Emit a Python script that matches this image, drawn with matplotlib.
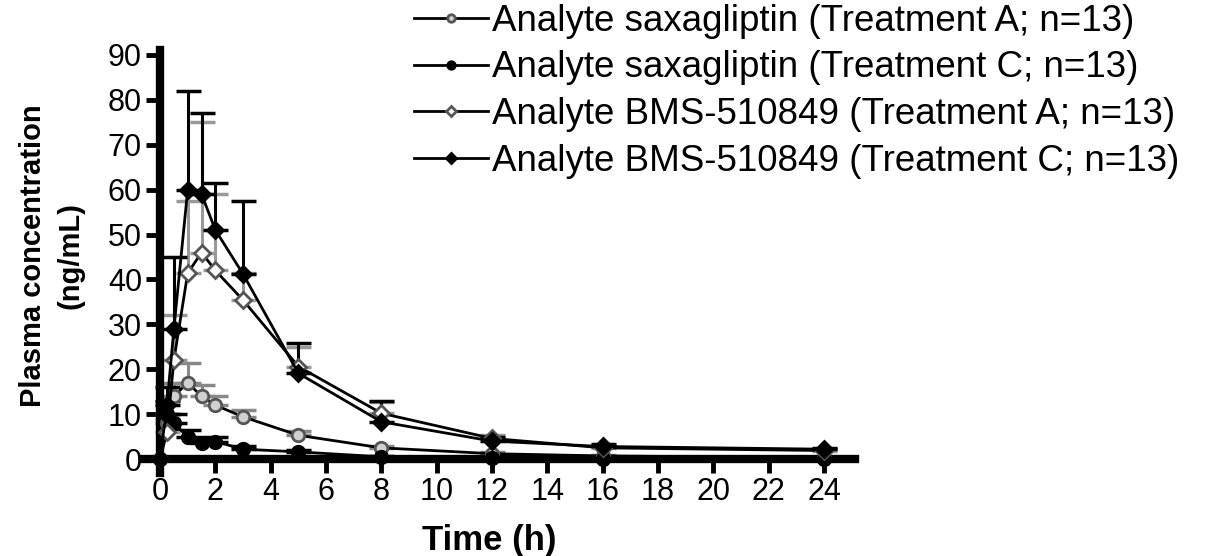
import matplotlib
matplotlib.use("Agg")
import matplotlib.pyplot as plt

# ==================================================
# DATA
# ==================================================

time_h = [0, 0.25, 0.5, 1, 1.5, 2, 3, 5, 8, 12, 16, 24]

sax_A = [0, 8, 14, 17, 14, 12, 9.4, 5.3, 2.5, 1.2, 0.7, 0.3]
sax_A_err = [0, 2, 3, 4.5, 2.5, 2, 1.5, 1, 0.5, 0.3, 0.2, 0.1]

sax_C = [0, 10, 8, 5, 3.6, 3.9, 2.2, 1.6, 0.5, 0.2, 0.1, 0.05]
sax_C_err = [0, 3, 2, 1.5, 1, 1, 0.6, 0.4, 0.2, 0.1, 0.05, 0.02]

bms_A = [0, 6, 22, 41.4, 46, 42, 35.4, 20.6, 10.2, 4.6, 2.5, 1.9]
bms_A_err = [0, 3, 10, 16, 29, 17, 6, 4.4, 2.5, 0.8, 0.5, 0.3]

bms_C = [0, 12, 29, 60, 59, 51, 41.2, 19.1, 8.3, 4.0, 2.8, 2.2]
bms_C_err = [0, 4, 16, 22, 18, 10.5, 16.3, 6.8, 4.7, 1, 0.5, 0.3]

labels = [
    "Analyte saxagliptin (Treatment A; n=13)",
    "Analyte saxagliptin (Treatment C; n=13)",
    "Analyte BMS-510849 (Treatment A; n=13)",
    "Analyte BMS-510849 (Treatment C; n=13)",
]

x_ticks = list(range(0, 25, 2))
y_ticks = list(range(0, 91, 10))

# ==================================================
# FIGURE
# ==================================================

plt.rcParams['font.family'] = ['Liberation Sans', 'DejaVu Sans']

fig = plt.figure(figsize=(12.06, 5.56), dpi=100)
ax = fig.add_axes([0.1194, 0.1493, 0.5896, 0.7608])

series = [
    (sax_A, sax_A_err, 'o', '#d0d0d0', '#555555', '#888888'),
    (sax_C, sax_C_err, 'o', 'black', 'black', 'black'),
    (bms_A, bms_A_err, 'D', 'white', '#555555', '#999999'),
    (bms_C, bms_C_err, 'D', 'black', 'black', 'black'),
]

for (vals, err, mk, face, edge, ecol), lab in zip(series, labels):
    ax.errorbar(
        time_h, vals,
        yerr=[[0] * len(err), err],
        fmt='none', ecolor=ecol, elinewidth=2.2, capsize=9, capthick=2.5,
        zorder=2
    )
    ax.plot(
        time_h, vals,
        color='black', linewidth=2.0,
        marker=mk, markersize=9 if mk == 'o' else 8,
        markerfacecolor=face, markeredgecolor=edge, markeredgewidth=2,
        label=lab, zorder=3
    )

# ==================================================
# AXES STYLE (GraphPad-like)
# ==================================================

ax.set_xlim(-0.58, 25.12)
ax.set_ylim(-3.1, 91.1)

ax.spines['left'].set_position(('data', 0))
ax.spines['bottom'].set_position(('data', 0))
ax.spines['right'].set_visible(False)
ax.spines['top'].set_visible(False)
ax.spines['left'].set_linewidth(6)
ax.spines['bottom'].set_linewidth(6)

ax.set_xticks(x_ticks)
ax.set_yticks(y_ticks)
ax.tick_params(axis='both', direction='out', length=10, width=3.5,
               labelsize=22, pad=3)

fig.text(0.406, 0.027, "Time (h)", fontsize=25, fontweight='bold',
         ha='center', va='center')
fig.text(0.043, 0.541, "Plasma concentration\n(ng/mL)", fontsize=21,
         fontweight='bold', rotation=90, ha='center', va='center',
         linespacing=1.45, multialignment='center')

fig.legend(
    loc='upper left', bbox_to_anchor=(0.316, 1.053),
    frameon=False, fontsize=26.5, handlelength=2.0, handletextpad=0.1,
    labelspacing=0.32, markerscale=0.6
)

plt.savefig("out.png", dpi=100)
